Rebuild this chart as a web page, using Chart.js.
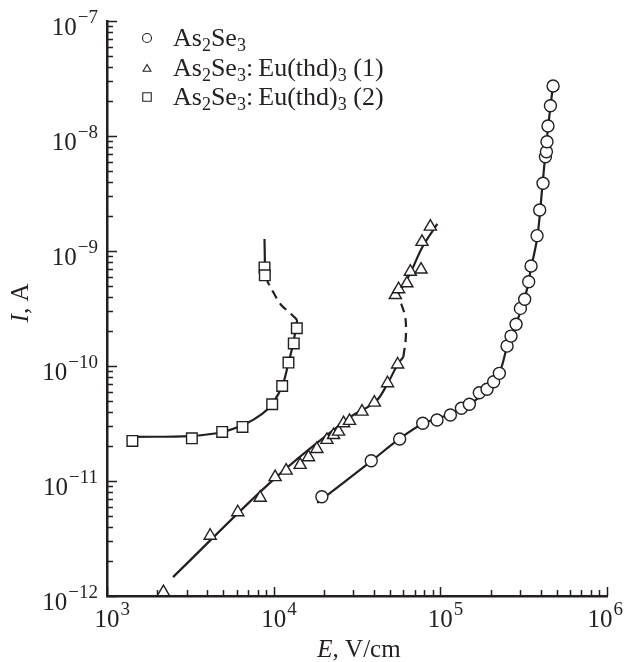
<!DOCTYPE html>
<html>
<head>
<meta charset="utf-8">
<script src="https://cdn.jsdelivr.net/npm/chart.js@4.4.1/dist/chart.umd.min.js"></script>
<style>
  html, body { margin: 0; padding: 0; background: #fff; }
  #wrap { width: 625px; height: 662px; }
</style>
</head>
<body>
<div id="wrap"><canvas id="ivChart" width="625" height="662"></canvas></div>
<script>
// I-V curves, log-log.

const INK = '#231f20';
const SERIF = "'Liberation Serif', 'Times New Roman', serif";

// --- measured points ---
const circleE = [19460, 38500, 57000, 78400, 95500, 114900, 133800, 149300, 171300, 190600, 208900, 226000,
    251400, 265600, 284700, 302300, 320700, 339000, 350300, 380500, 394500, 413200, 427000, 433000,
    436400, 442500, 457700, 474800];
const circleI = [7.3e-12, 1.5e-11, 2.32e-11, 3.18e-11, 3.39e-11, 3.75e-11, 4.29e-11, 4.65e-11, 5.86e-11, 6.27e-11, 7.3e-11, 8.63e-11,
    1.49e-10, 1.82e-10, 2.31e-10, 3.17e-10, 3.8e-10, 5.41e-10, 7.41e-10, 1.36e-9, 2.27e-9, 3.88e-9, 6.61e-9, 7.3e-9,
    8.9e-9, 1.22e-8, 1.83e-8, 2.72e-8];

const triE = [2180, 4160, 6090, 8300, 10200, 11880, 14420, 16180, 18160, 20870, 22870, 24510, 26260, 28520,
    33880, 40180, 48220, 55430, 53700, 56200, 63000, 66100, 76600, 77600, 87100];
const triI = [1.08e-12, 3.34e-12, 5.35e-12, 7.16e-12, 1.08e-11, 1.23e-11, 1.38e-11, 1.61e-11, 1.90e-11, 2.28e-11, 2.51e-11, 2.69e-11, 3.18e-11, 3.33e-11,
    4.01e-11, 4.80e-11, 7.08e-11, 1.03e-10, 4.14e-10, 4.65e-10, 5.24e-10, 6.6e-10, 6.9e-10, 1.2e-9, 1.63e-9];

const squareE = [1420, 3230, 4910, 6500, 9800, 11250, 12270, 13200, 13770, 8810, 8850];
const squareI = [2.23e-11, 2.35e-11, 2.67e-11, 2.95e-11, 4.65e-11, 6.7e-11, 1.07e-10, 1.57e-10, 2.13e-10, 7.2e-10, 6.15e-10];

// --- guide curves (solid / dashed parts) ---
const circleFitE = [18250, 38500, 56800, 78000, 114800, 151400, 191500, 226000, 252400, 285800, 319600, 352500, 382800, 410600, 433700, 458000, 477500];
const circleFitI = [6.44e-12, 1.49e-11, 2.32e-11, 3.13e-11, 3.83e-11, 4.68e-11, 6.18e-11, 8.69e-11, 1.49e-10, 2.37e-10, 3.75e-10, 7.41e-10, 1.35e-9, 3.83e-9, 8.87e-9, 1.82e-8, 2.95e-8];

const triFitE = [2490, 10200, 28770, 40700, 48100, 55200, 60000];
const triFitI = [1.46e-12, 1.06e-11, 3.60e-11, 4.86e-11, 6.97e-11, 1.02e-10, 1.20e-10];
const triDashE = [60000, 62100, 61600, 58300, 56000];
const triDashI = [1.20e-10, 1.79e-10, 2.67e-10, 3.46e-10, 3.98e-10];
const triTopE = [55200, 66100, 77900, 95900];
const triTopI = [4.06e-10, 6.44e-10, 1.08e-9, 1.72e-9];

const sqFitE = [1430, 3150, 4910, 6750, 8530, 9800, 11250, 12220, 13100, 13840];
const sqFitI = [2.42e-11, 2.46e-11, 2.67e-11, 3.13e-11, 3.83e-11, 4.68e-11, 6.7e-11, 1.04e-10, 1.58e-10, 2.51e-10];
const sqDashE = [13840, 12560, 11090, 9930, 9140];
const sqDashI = [2.51e-10, 2.89e-10, 3.39e-10, 4.40e-10, 5.48e-10];
const sqTopE = [8890, 8810];
const sqTopI = [5.82e-10, 1.27e-9];

// --- axes ---
const xExps = [3, 4, 5, 6];
const yExps = [-12, -11, -10, -9, -8, -7];

// legend rows: [base, sub, base, sub, ...]
const legendStyles = ['circle', 'triangle', 'rect'];
const legendLabels = [
    ['As', '2', 'Se', '3'],
    ['As', '2', 'Se', '3', ':\u2009Eu(thd)', '3', ' (1)'],
    ['As', '2', 'Se', '3', ':\u2009Eu(thd)', '3', ' (2)']
];

const zip = (xs, ys) => xs.map((x, i) => ({x: x, y: ys[i]}));

function markers(xs, ys, style, r) {
    return {
        data: zip(xs, ys), showLine: false, clip: false,
        pointStyle: style, pointRadius: r, pointBorderWidth: 1.4,
        pointBorderColor: INK, pointBackgroundColor: '#fff'
    };
}
function curve(xs, ys, dashed) {
    return {
        data: zip(xs, ys), showLine: true, pointRadius: 0, clip: false,
        borderColor: INK, borderWidth: 2.2, tension: 0.35,
        borderDash: dashed ? [9, 6] : []
    };
}

function drawPow(ctx, exp, x, y, anchor) {
    const base = '10', sup = String(exp).replace('-', '\u2212');
    ctx.font = '25px ' + SERIF;
    const wb = ctx.measureText(base).width;
    ctx.font = '19px ' + SERIF;
    const ws = ctx.measureText(sup).width;
    let x0;
    if (anchor === 'right') x0 = x - wb - ws - 1;
    else x0 = Math.min(x - wb / 2, 622 - wb - ws);
    ctx.textAlign = 'left';
    ctx.textBaseline = 'alphabetic';
    ctx.font = '25px ' + SERIF;
    ctx.fillText(base, x0, y);
    ctx.font = '19px ' + SERIF;
    ctx.fillText(sup, x0 + wb + 1, y - 12);
}

const axisDecor = {
    id: 'axisDecor',
    beforeDatasetsDraw(chart) {
        const {ctx, chartArea: a, scales: {x, y}} = chart;
        ctx.save();
        ctx.strokeStyle = INK;
        ctx.lineWidth = 1.5;
        ctx.beginPath();
        for (let e = xExps[0]; e <= xExps[xExps.length - 1]; e++) {
            for (let k = 1; k < 10; k++) {
                const v = k * Math.pow(10, e);
                if (v > x.max * 1.0001) break;
                const px = Math.round(x.getPixelForValue(v)) + 0.5;
                ctx.moveTo(px, a.bottom);
                ctx.lineTo(px, a.bottom - (k === 1 ? 9 : 6));
            }
        }
        for (let e = yExps[0]; e <= yExps[yExps.length - 1]; e++) {
            for (let k = 1; k < 10; k++) {
                const v = k * Math.pow(10, e);
                if (v > y.max * 1.0001) break;
                const py = Math.round(y.getPixelForValue(v)) + 0.5;
                ctx.moveTo(a.left, py);
                ctx.lineTo(a.left + (k === 1 ? 10 : 6), py);
            }
        }
        ctx.stroke();
        ctx.restore();
    },
    afterDraw(chart) {
        const {ctx, chartArea: a, scales: {x, y}} = chart;
        ctx.save();
        ctx.fillStyle = INK;
        xExps.forEach(e => drawPow(ctx, e, x.getPixelForValue(Math.pow(10, e)), a.bottom + 31, 'center'));
        yExps.forEach(e => drawPow(ctx, e, a.left - 9, y.getPixelForValue(Math.pow(10, e)) + 14, 'right'));

        // axis titles
        ctx.textBaseline = 'alphabetic';
        ctx.textAlign = 'left';
        ctx.font = 'italic 25px ' + SERIF;
        const wE = ctx.measureText('E').width;
        ctx.font = '25px ' + SERIF;
        const wRest = ctx.measureText(', V/cm').width;
        let tx = (a.left + a.right) / 2 - (wE + wRest) / 2 + 2;
        ctx.font = 'italic 25px ' + SERIF;
        ctx.fillText('E', tx, 657);
        ctx.font = '25px ' + SERIF;
        ctx.fillText(', V/cm', tx + wE, 657);

        ctx.save();
        ctx.translate(28, 303);
        ctx.rotate(-Math.PI / 2);
        ctx.font = 'italic 25px ' + SERIF;
        const wI = ctx.measureText('I').width;
        ctx.font = '25px ' + SERIF;
        const wA = ctx.measureText(', A').width;
        ctx.font = 'italic 25px ' + SERIF;
        ctx.fillText('I', -(wI + wA) / 2, 0);
        ctx.font = '25px ' + SERIF;
        ctx.fillText(', A', -(wI + wA) / 2 + wI, 0);
        ctx.restore();

        // legend
        const rows = [38, 68, 97];
        legendLabels.forEach((parts, i) => {
            const cy = rows[i];
            ctx.strokeStyle = INK;
            ctx.fillStyle = '#fff';
            ctx.lineWidth = 1.1;
            Chart.helpers.drawPoint(ctx, {pointStyle: legendStyles[i], radius: legendStyles[i] === 'rect' ? 6 : 4.5, borderWidth: 1.1}, 147, cy + (legendStyles[i] === 'triangle' ? 1 : 0));
            ctx.fillStyle = INK;
            let lx = 173;
            parts.forEach((p, j) => {
                const isSub = j % 2 === 1;
                ctx.font = (isSub ? '18px ' : '26px ') + SERIF;
                ctx.fillText(p, lx, cy + 8 + (isSub ? 5 : 0));
                lx += ctx.measureText(p).width;
            });
        });
        ctx.restore();
    }
};

new Chart(document.getElementById('ivChart'), {
    type: 'scatter',
    data: {
        datasets: [
            markers(circleE, circleI, 'circle', 6),
            markers(triE, triI, 'triangle', 7),
            markers(squareE, squareI, 'rect', 7.5),
            curve(circleFitE, circleFitI, false),
            curve(triFitE, triFitI, false),
            curve(triDashE, triDashI, true),
            curve(triTopE, triTopI, false),
            curve(sqFitE, sqFitI, false),
            curve(sqDashE, sqDashI, true),
            curve(sqTopE, sqTopI, false)
        ]
    },
    options: {
        responsive: false,
        animation: false,
        layout: { padding: { left: 107, right: 18, top: 21, bottom: 66 } },
        plugins: { legend: { display: false }, tooltip: { enabled: false } },
        scales: {
            x: {
                type: 'logarithmic', min: 1e3, max: 1e6,
                grid: { display: false, drawTicks: false },
                border: { display: true, color: INK, width: 2.5 },
                ticks: { display: false }
            },
            y: {
                type: 'logarithmic', min: 1e-12, max: 1e-7,
                grid: { display: false, drawTicks: false },
                border: { display: true, color: INK, width: 2.5 },
                ticks: { display: false }
            }
        }
    },
    plugins: [axisDecor]
});
</script>
</body>
</html>
